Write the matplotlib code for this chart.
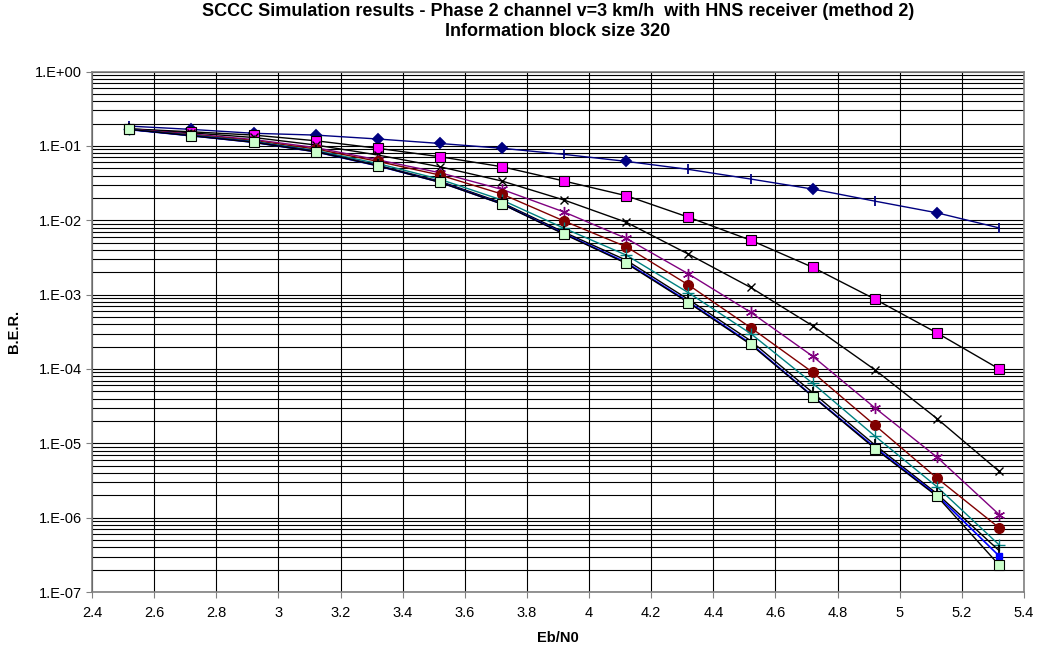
import numpy as np
import matplotlib.pyplot as plt
from matplotlib.ticker import FixedLocator, LogLocator, NullFormatter, FuncFormatter

plt.rcParams['font.family'] = ['Liberation Sans', 'DejaVu Sans']

# datos
ebn0 = [2.52, 2.72, 2.92, 3.12, 3.32, 3.52, 3.72, 3.92, 4.12, 4.32, 4.52, 4.72, 4.92, 5.12, 5.32]

ber_navy = [0.185, 0.167, 0.148, 0.140, 0.124, 0.108, 0.093, 0.077, 0.062, 0.0484, 0.0359,
            0.0263, 0.0181, 0.0126, 0.0079]
navy_markers = ['|', 'D', 'D', 'D', 'D', 'D', 'D', '|', 'D', '|', '|', 'D', '|', 'D', '|']

ber_magenta = [0.17, 0.155, 0.14, 0.1175, 0.093, 0.0716, 0.0525, 0.0337, 0.0214, 0.011, 0.0054,
               0.00233, 0.00087, 0.000305, 0.0001]
ber_x = [0.17, 0.15, 0.13, 0.103, 0.0755, 0.0525, 0.0337, 0.0187, 0.0094, 0.0035, 0.00125,
         0.00038, 9.75e-5, 2.15e-5, 4.2e-6]
ber_purple = [0.168, 0.145, 0.122, 0.095, 0.065, 0.0436, 0.026, 0.0129, 0.0057, 0.0019, 0.00058,
              0.000148, 3.0e-5, 6.5e-6, 1.1e-6]
ber_red = [0.168, 0.142, 0.118, 0.091, 0.062, 0.0406, 0.0225, 0.00975, 0.0044, 0.00135, 0.00036,
           9.0e-5, 1.75e-5, 3.4e-6, 7.3e-7]
ber_teal = [0.167, 0.14, 0.115, 0.087, 0.058, 0.0356, 0.0187, 0.0078, 0.0034, 0.00106, 0.0003,
            6.4e-5, 1.25e-5, 2.6e-6, 4.3e-7]
ber_black = [0.167, 0.138, 0.113, 0.085, 0.055, 0.0335, 0.0172, 0.0069, 0.0029, 0.00086, 0.00024,
             4.8e-5, 9.5e-6, 2.1e-6, 3.6e-7]
ber_blue = [0.166, 0.137, 0.112, 0.0835, 0.054, 0.0326, 0.0166, 0.0066, 0.0027, 0.0008, 0.00022,
            4.3e-5, 8.8e-6, 2.0e-6, 3.05e-7]
ber_green = [0.167, 0.137, 0.112, 0.0835, 0.0542, 0.0324, 0.0165, 0.0065, 0.00263, 0.00078,
             0.000214, 4.25e-5, 8.5e-6, 1.94e-6, 2.3e-7]

xticks = [2.4, 2.6, 2.8, 3.0, 3.2, 3.4, 3.6, 3.8, 4.0, 4.2, 4.4, 4.6, 4.8, 5.0, 5.2, 5.4]

# figura
fig = plt.figure(figsize=(10.37, 6.51), dpi=100)
ax = fig.add_axes([0.0887, 0.0906, 0.8988, 0.7994])
ax.set_yscale('log')
ax.set_xlim(2.4, 5.4)
ax.set_ylim(1e-7, 1)

# rejilla
ax.xaxis.set_major_locator(FixedLocator(xticks))
ax.yaxis.set_major_locator(LogLocator(base=10, numticks=20))
ax.yaxis.set_minor_locator(LogLocator(base=10, subs=np.arange(2, 10), numticks=20))
ax.yaxis.set_minor_formatter(NullFormatter())
ax.grid(True, which='major', axis='both', color='black', linewidth=0.8)
ax.grid(True, which='minor', axis='y', color='black', linewidth=0.8)
ax.set_axisbelow(True)

ax.xaxis.set_major_formatter(FuncFormatter(lambda v, p: f'{v:g}'))
ax.yaxis.set_major_formatter(FuncFormatter(lambda v, p: f'1.E{int(round(np.log10(v))):+03d}'))
ax.tick_params(axis='both', which='major', labelsize=10.5, length=4, width=0.8, color='#808080')
ax.tick_params(axis='y', which='minor', length=0)
ax.tick_params(axis='x', pad=6)
ax.tick_params(axis='y', pad=3)

for s in ax.spines.values():
    s.set_color('#808080')
    s.set_linewidth(1.2)

# series
ax.plot(ebn0, ber_navy, color='#000080', lw=1)
for xv, yv, mk in zip(ebn0, ber_navy, navy_markers):
    ax.plot(xv, yv, marker=mk, color='#000080', ms=5 if mk == 'D' else 7, mew=1.3)

ax.plot(ebn0, ber_magenta, color='black', lw=1, marker='s', ms=7,
        mfc='#FF00FF', mec='black', mew=0.8)
ax.plot(ebn0, ber_x, color='black', lw=1, marker='x', ms=6, mew=1)
ax.plot(ebn0, ber_purple, color='#800080', lw=1, marker=(6, 2, 0), ms=8, mew=1)
ax.plot(ebn0, ber_red, color='#800000', lw=1, marker='o', ms=7)
ax.plot(ebn0, ber_teal, color='#008080', lw=1, marker='+', ms=8, mew=1)
ax.plot(ebn0, ber_black, color='black', lw=1, marker='|', ms=8, mew=1.3)
ax.plot(ebn0, ber_blue, color='#0000FF', lw=1.2, marker='s', ms=4)
ax.plot(ebn0, ber_green, color='black', lw=1, marker='s', ms=7,
        mfc='#CCFFCC', mec='black', mew=0.8)

# textos
fig.text(0.538, 1 - 12 / 651, 'SCCC Simulation results - Phase 2 channel v=3 km/h  with HNS receiver (method 2)',
         ha='center', va='center', fontsize=13, fontweight='bold')
fig.text(0.538, 1 - 31 / 651, 'Information block size 320',
         ha='center', va='center', fontsize=13, fontweight='bold')
ax.set_xlabel('Eb/N0', fontsize=10.5, fontweight='bold', labelpad=8)
ax.set_ylabel('B.E.R.', fontsize=10.5, fontweight='bold', labelpad=10)

fig.savefig('out.png', dpi=100)
